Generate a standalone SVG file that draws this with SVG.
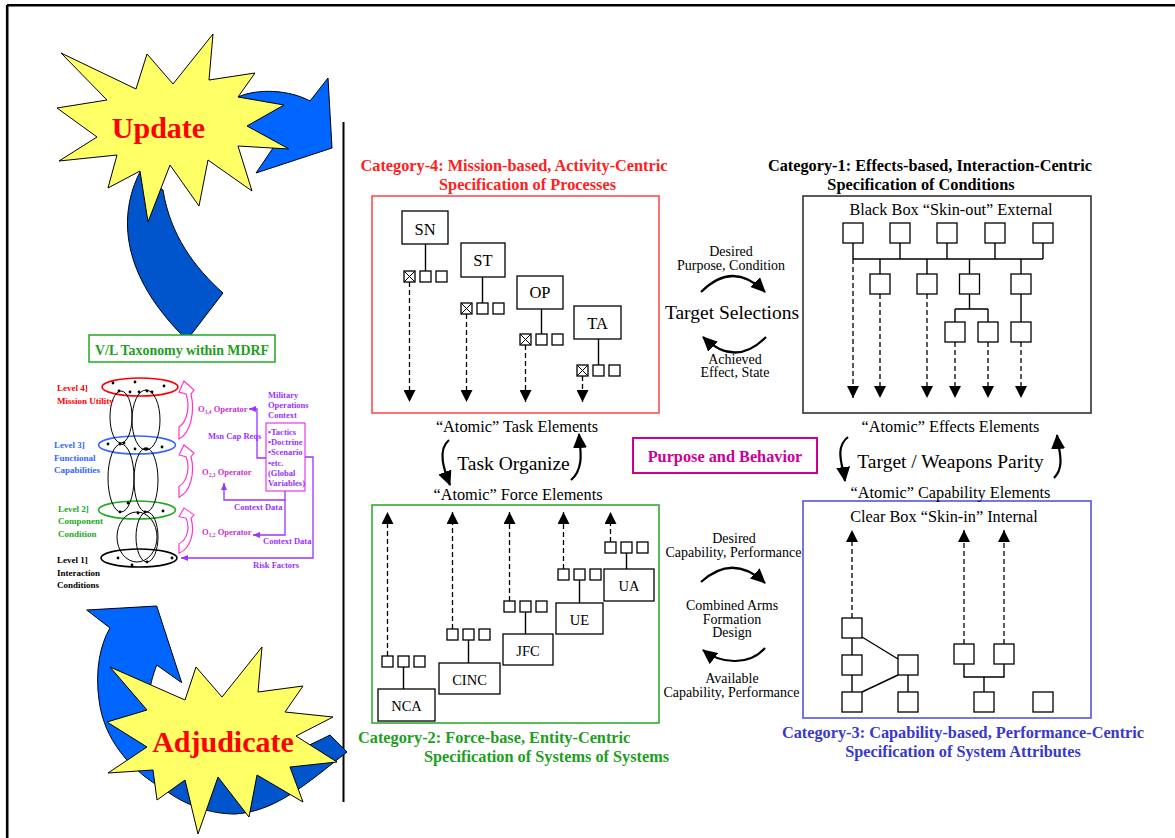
<svg xmlns="http://www.w3.org/2000/svg" width="1175" height="838" viewBox="0 0 1175 838">
<style>
text{font-family:"Liberation Serif","Times New Roman",serif;}
.b{font-weight:bold;}
.sq{fill:#fff;stroke:#000;stroke-width:1.3;}
.box{fill:#fff;stroke:#000;stroke-width:1.3;}
.ln{fill:none;stroke:#000;stroke-width:1.4;}
.dash{fill:none;stroke:#000;stroke-width:1.3;stroke-dasharray:5 3;}
.arc{fill:none;stroke:#000;stroke-width:2.2;}
.lbl{font-size:16.3px;text-anchor:middle;}
.nm{font-size:16.5px;text-anchor:middle;}
.nm2{font-size:14.5px;text-anchor:middle;}
.small{font-size:14px;text-anchor:middle;}
.big{font-size:19.5px;text-anchor:middle;}
.title{font-size:16.3px;font-weight:bold;}
.tax{font-size:9px;font-weight:bold;}
.tx2{font-size:8.5px;font-weight:bold;}
.pur{fill:#9933FF;}
.mag{fill:#CC33CC;}
.pline{fill:none;stroke:#9933FF;stroke-width:1.3;}
.star{fill:#FFFF66;stroke:#000;stroke-width:1;}
.loop{fill:none;stroke:#000;stroke-width:1;}
.dot{fill:#000;}
.pink{fill:#fff;stroke:#FF33CC;stroke-width:1.2;}
</style>
<defs>
<marker id="dHead" markerUnits="userSpaceOnUse" markerWidth="12" markerHeight="12" viewBox="0 0 12 12" refX="12" refY="6" orient="auto"><path d="M0,0 L12,6 L0,12 Z" fill="#000"/></marker>
<marker id="cHead" markerUnits="userSpaceOnUse" markerWidth="15" markerHeight="14" viewBox="0 0 15 14" refX="14" refY="7" orient="auto"><path d="M0,0 L15,7 L0,14 Z" fill="#000"/></marker>
<marker id="pHead" markerUnits="userSpaceOnUse" markerWidth="7" markerHeight="6" viewBox="0 0 7 6" refX="7" refY="3" orient="auto"><path d="M0,0 L7,3 L0,6 Z" fill="#9933FF"/></marker>
<path id="pinkArrow" d="M1,58 L1,46 C10,40 12,24 8,13 L1,11 L6,0 L16,9 L13,13 C17,30 13,52 1,58 Z"/>
<g id="xsq"><rect class="sq" x="0" y="0" width="11" height="11"/><path d="M0,0 L11,11 M11,0 L0,11" stroke="#000" stroke-width="1"/></g>
</defs>

<rect width="1175" height="838" fill="#fff"/>
<!-- page frame and divider -->
<path d="M7,5.3 H1175 M7.2,5 V838" fill="none" stroke="#000" stroke-width="2.6"/>
<path d="M343.5,122 V802" stroke="#000" stroke-width="2"/>

<!-- Update cycle: arrows behind burst -->
<g id="update">
  <path d="M238,97 C258,88 290,90 310,101 L328,78 L332,148 L256,173 L273,148 C262,140 250,136 236,134 Z" fill="#0066FF" stroke="#000" stroke-width="1"/>
  <path d="M140,172 C118,215 120,275 187,340 L223,293 C195,268 170,235 163,190 Z" fill="#0055CC" stroke="#000" stroke-width="1"/>
  <polygon class="star" points="61,53 136,89 147,54 173,84 213,34 209,80 255,73 238,97 284,105 247,126 289,149 238,146 252,191 208,160 199,206 170,165 148,222 140,171 108,188 117,155 59,161 97,137 57,108 107,100"/>
  <text x="158.5" y="138" font-size="30" font-weight="bold" fill="#FF0000" text-anchor="middle">Update</text>
</g>

<!-- Adjudicate cycle -->
<g id="adjudicate">
  <path d="M86.7,610 L156.7,606 L181.7,682.7 L156.7,665 C149,685 146,705 150,725 C155,745 165,756 175,762 L165,790 C130,770 104,740 99,700 C95,670 100,645 110,628 Z" fill="#0066FF" stroke="#000" stroke-width="1"/>
  <path d="M165,790 C185,805 210,814 235,814 C265,812 290,798 333,763 L347,752 L330,735 C310,745 290,755 265,760 C230,768 195,766 175,762 Z" fill="#0055CC" stroke="#000" stroke-width="1"/>
  <polygon class="star" points="110,667 185,700 196,667 222,697 262,647 258,692 303,686 285,712 333,717 296,736 337,762 290,767 303,802 257,775 249,817 218,777 198,834 185,780 157,800 153,770 108,773 147,747 107,722 147,710"/>
  <text x="223" y="752" font-size="30" font-weight="bold" fill="#FF0000" text-anchor="middle">Adjudicate</text>
</g>

<!-- V/L taxonomy -->
<g id="taxonomy">
  <rect x="89" y="335" width="186" height="27" fill="#fff" stroke="#22AA22" stroke-width="1.5"/>
  <text x="182" y="355" font-size="14" font-weight="bold" fill="#1E9E1E" text-anchor="middle" textLength="174" lengthAdjust="spacingAndGlyphs">V/L Taxonomy within MDRF</text>

  <g id="levels">
    <ellipse cx="140" cy="387" rx="38" ry="9" fill="none" stroke="#FF0000" stroke-width="1.6"/>
    <ellipse cx="137" cy="445" rx="38.5" ry="9" fill="none" stroke="#3366FF" stroke-width="1.6"/>
    <ellipse cx="137" cy="510" rx="38.5" ry="9" fill="none" stroke="#22AA22" stroke-width="1.6"/>
    <ellipse cx="139" cy="558" rx="38" ry="9" fill="none" stroke="#000" stroke-width="1.6"/>
    <ellipse class="loop" cx="121" cy="417" rx="11" ry="26"/>
    <ellipse class="loop" cx="146" cy="420" rx="14" ry="30"/>
    <ellipse class="loop" cx="121" cy="478" rx="13" ry="34"/>
    <ellipse class="loop" cx="146" cy="480" rx="12" ry="32"/>
    <ellipse class="loop" cx="137" cy="537" rx="20" ry="25"/>
    <ellipse class="loop" cx="147" cy="537" rx="11" ry="25"/>
    <g class="dot">
      <circle cx="113" cy="383" r="1.4"/><circle cx="135" cy="382" r="1.4"/><circle cx="164" cy="386" r="1.4"/><circle cx="119" cy="391" r="1.4"/><circle cx="130" cy="392" r="1.4"/><circle cx="139" cy="392" r="1.4"/><circle cx="147" cy="391" r="1.4"/><circle cx="152" cy="392" r="1.4"/>
      <circle cx="108" cy="444" r="1.4"/><circle cx="120" cy="444" r="1.4"/><circle cx="124" cy="443" r="1.4"/><circle cx="135" cy="449" r="1.4"/><circle cx="145" cy="449" r="1.4"/><circle cx="147" cy="449" r="1.4"/><circle cx="162" cy="447" r="1.4"/>
      <circle cx="128" cy="503" r="1.4"/><circle cx="163" cy="511" r="1.4"/><circle cx="120" cy="512" r="1.4"/><circle cx="138" cy="513" r="1.4"/><circle cx="145" cy="512" r="1.4"/>
      <circle cx="118" cy="558" r="1.4"/><circle cx="132" cy="565" r="1.4"/><circle cx="147" cy="562" r="1.4"/><circle cx="172" cy="558" r="1.4"/>
    </g>
    <text class="tax" x="57" y="391" fill="#FF0000">Level 4]</text>
    <text class="tax" x="57" y="404" fill="#FF0000">Mission Utility</text>
    <text class="tax" x="54" y="448" fill="#3366FF">Level 3]</text>
    <text class="tax" x="54" y="461" fill="#3366FF">Functional</text>
    <text class="tax" x="54" y="473" fill="#3366FF">Capabilities</text>
    <text class="tax" x="58" y="512" fill="#22AA22">Level 2]</text>
    <text class="tax" x="58" y="524" fill="#22AA22">Component</text>
    <text class="tax" x="58" y="537" fill="#22AA22">Condition</text>
    <text class="tax" x="57" y="563" fill="#000">Level 1]</text>
    <text class="tax" x="57" y="576" fill="#000">Interaction</text>
    <text class="tax" x="57" y="588" fill="#000">Conditions</text>
  </g>

  <g id="operators">
    <use href="#pinkArrow" class="pink" transform="translate(178,381)"/>
    <use href="#pinkArrow" class="pink" transform="translate(178,445) scale(1,0.9)"/>
    <use href="#pinkArrow" class="pink" transform="translate(178,508) scale(1,0.78)"/>
    <text class="tx2 mag" x="198" y="412">O<tspan font-size="5.5" dy="2">3,4</tspan><tspan dy="-2"> Operator</tspan></text>
    <text class="tx2 mag" x="202" y="475">O<tspan font-size="5.5" dy="2">2,3</tspan><tspan dy="-2"> Operator</tspan></text>
    <text class="tx2 mag" x="202" y="535">O<tspan font-size="5.5" dy="2">1,2</tspan><tspan dy="-2"> Operator</tspan></text>
  </g>

  <g id="context">
    <rect x="266" y="423" width="39" height="68" fill="#fff" stroke="#EE33EE" stroke-width="1.2"/>
    <text class="tx2 pur" x="268" y="398">Military</text>
    <text class="tx2 pur" x="268" y="408">Operations</text>
    <text class="tx2 pur" x="268" y="418">Context</text>
    <text class="tx2 pur" x="268" y="435" font-size="8">•Tactics</text>
    <text class="tx2 pur" x="268" y="445" font-size="8">•Doctrine</text>
    <text class="tx2 pur" x="268" y="455" font-size="8">•Scenario</text>
    <text class="tx2 pur" x="268" y="466" font-size="8">•etc.</text>
    <text class="tx2 pur" x="268" y="476" font-size="8">(Global</text>
    <text class="tx2 pur" x="268" y="486" font-size="8">Variables)</text>
    <text class="tx2 pur" x="208" y="439" font-size="8">Msn Cap Reqs</text>
    <text class="tx2 pur" x="234" y="510" font-size="8">Context Data</text>
    <text class="tx2 pur" x="263" y="544" font-size="8">Context Data</text>
    <text class="tx2 pur" x="253" y="568" font-size="8">Risk Factors</text>
  </g>
  <g id="taxonomy-links">
    <path class="pline" d="M266,458 H257 V409 H249" marker-end="url(#pHead)"/>
    <path class="pline" d="M285,491 V500 H224 V483" marker-end="url(#pHead)"/>
    <path class="pline" d="M285,500 V535 H253" marker-end="url(#pHead)"/>
    <path class="pline" d="M305,457 H313 V558 H181" marker-end="url(#pHead)"/>
  </g>
</g>

<!-- Category-4 -->
<g id="cat4">
  <text class="title" x="514" y="171" fill="#FF2020" text-anchor="middle">Category-4:  Mission-based, Activity-Centric</text>
  <text class="title" x="527.5" y="189.5" fill="#FF2020" text-anchor="middle">Specification of Processes</text>
  <rect x="372" y="196" width="287" height="217" fill="none" stroke="#FF4D4D" stroke-width="1.6"/>
  <g id="SN">
    <rect class="box" x="402" y="211" width="46" height="33"/>
    <text class="nm" x="425" y="235">SN</text>
    <use href="#xsq" x="404" y="271"/><rect class="sq" x="420" y="271" width="11" height="11"/><rect class="sq" x="436" y="271" width="11" height="11"/>
  </g>
  <g id="ST">
    <rect class="box" x="461" y="243" width="44" height="34"/>
    <text class="nm" x="483" y="266">ST</text>
    <use href="#xsq" x="461" y="303"/><rect class="sq" x="477" y="303" width="11" height="11"/><rect class="sq" x="493" y="303" width="11" height="11"/>
  </g>
  <g id="OP">
    <rect class="box" x="517" y="276" width="46" height="33"/>
    <text class="nm" x="540" y="298">OP</text>
    <use href="#xsq" x="520" y="334"/><rect class="sq" x="536" y="334" width="11" height="11"/><rect class="sq" x="552" y="334" width="11" height="11"/>
  </g>
  <g id="TA">
    <rect class="box" x="574" y="306" width="47" height="33"/>
    <text class="nm" x="597.5" y="329">TA</text>
    <use href="#xsq" x="577" y="365"/><rect class="sq" x="593" y="365" width="11" height="11"/><rect class="sq" x="609" y="365" width="11" height="11"/>
  </g>
</g>

<!-- Category-1 -->
<g id="cat1">
  <text class="title" x="930" y="171" fill="#000" text-anchor="middle">Category-1:  Effects-based, Interaction-Centric</text>
  <text class="title" x="921" y="189.5" fill="#000" text-anchor="middle">Specification of Conditions</text>
  <rect x="803" y="196" width="288" height="217" fill="none" stroke="#333" stroke-width="1.6"/>
  <text class="lbl" x="951" y="215">Black Box “Skin-out” External</text>
  <g id="effects">
    <rect id="e1" class="sq" x="843" y="223" width="20" height="20"/>
    <rect id="e2" class="sq" x="890" y="223" width="20" height="20"/>
    <rect id="e3" class="sq" x="937" y="223" width="20" height="20"/>
    <rect id="e4" class="sq" x="985" y="223" width="20" height="20"/>
    <rect id="e5" class="sq" x="1033" y="223" width="20" height="20"/>
    <rect id="e6" class="sq" x="870" y="274" width="20" height="20"/>
    <rect id="e7" class="sq" x="917" y="274" width="20" height="20"/>
    <rect id="e8" class="sq" x="959.5" y="274" width="20" height="20"/>
    <rect id="e9" class="sq" x="1011" y="274" width="20" height="20"/>
    <rect id="e10" class="sq" x="945" y="322" width="20" height="20"/>
    <rect id="e11" class="sq" x="978" y="322" width="20" height="20"/>
    <rect id="e12" class="sq" x="1011" y="322" width="20" height="20"/>
  </g>
</g>

<!-- Category-2 -->
<g id="cat2">
  <rect x="372" y="505" width="287" height="218" fill="none" stroke="#33AA33" stroke-width="1.6"/>
  <text class="title" x="358" y="743" fill="#1E9E1E">Category-2:  Force-base, Entity-Centric</text>
  <text class="title" x="424" y="762" fill="#1E9E1E">Specification of Systems of Systems</text>
  <g id="NCA">
    <rect class="box" x="378" y="689" width="57" height="32"/>
    <text class="nm2" x="406.5" y="711">NCA</text>
    <rect class="sq" x="382" y="656" width="11" height="11"/><rect class="sq" x="398" y="656" width="11" height="11"/><rect class="sq" x="414" y="656" width="11" height="11"/>
  </g>
  <g id="CINC">
    <rect class="box" x="439" y="663" width="61" height="31"/>
    <text class="nm2" x="469.5" y="684.5">CINC</text>
    <rect class="sq" x="447" y="629" width="11" height="11"/><rect class="sq" x="463" y="629" width="11" height="11"/><rect class="sq" x="479" y="629" width="11" height="11"/>
  </g>
  <g id="JFC">
    <rect class="box" x="503" y="634" width="50" height="31"/>
    <text class="nm2" x="528" y="656">JFC</text>
    <rect class="sq" x="504" y="601" width="11" height="11"/><rect class="sq" x="520" y="601" width="11" height="11"/><rect class="sq" x="536" y="601" width="11" height="11"/>
  </g>
  <g id="UE">
    <rect class="box" x="556" y="603" width="47" height="31"/>
    <text class="nm2" x="579.5" y="624.5">UE</text>
    <rect class="sq" x="558" y="569" width="11" height="11"/><rect class="sq" x="574" y="569" width="11" height="11"/><rect class="sq" x="590" y="569" width="11" height="11"/>
  </g>
  <g id="UA">
    <rect class="box" x="604" y="569" width="50" height="32"/>
    <text class="nm2" x="629" y="591">UA</text>
    <rect class="sq" x="605" y="542" width="11" height="11"/><rect class="sq" x="621" y="542" width="11" height="11"/><rect class="sq" x="637" y="542" width="11" height="11"/>
  </g>
</g>

<!-- Category-3 -->
<g id="cat3">
  <rect x="803" y="501" width="288" height="217" fill="none" stroke="#5555DD" stroke-width="1.6"/>
  <text class="lbl" x="944" y="522">Clear Box “Skin-in” Internal</text>
  <text class="title" x="963" y="737.5" fill="#3838CC" text-anchor="middle">Category-3:  Capability-based, Performance-Centric</text>
  <text class="title" x="963" y="757" fill="#3838CC" text-anchor="middle">Specification of System Attributes</text>
  <g id="capabilities">
    <rect id="c1" class="sq" x="842" y="618" width="20" height="20"/>
    <rect id="c2" class="sq" x="842" y="655" width="20" height="20"/>
    <rect id="c3" class="sq" x="842" y="692" width="20" height="20"/>
    <rect id="c4" class="sq" x="898" y="655" width="20" height="20"/>
    <rect id="c5" class="sq" x="898" y="692" width="20" height="20"/>
    <rect id="c6" class="sq" x="954" y="644" width="20" height="20"/>
    <rect id="c7" class="sq" x="994" y="644" width="20" height="20"/>
    <rect id="c8" class="sq" x="974" y="692" width="20" height="20"/>
    <rect id="c9" class="sq" x="1033" y="692" width="20" height="20"/>
  </g>
</g>

<!-- central cycle labels -->
<g id="target-selections">
  <text class="small" x="731" y="256">Desired</text>
  <text class="small" x="731" y="269.5">Purpose, Condition</text>
  <text class="big" x="732" y="319">Target Selections</text>
  <text class="small" x="735" y="363.5">Achieved</text>
  <text class="small" x="735" y="377">Effect, State</text>
</g>
<g id="task-organize">
  <text class="lbl" x="517" y="432">“Atomic” Task Elements</text>
  <text class="big" x="513.5" y="470">Task Organize</text>
  <text class="lbl" x="518" y="500">“Atomic” Force Elements</text>
</g>
<g id="purpose">
  <rect x="633" y="438" width="184" height="35" fill="#fff" stroke="#CC0099" stroke-width="2"/>
  <text x="725" y="462" font-size="16.3" font-weight="bold" fill="#CC0099" text-anchor="middle">Purpose and Behavior</text>
</g>
<g id="parity">
  <text class="lbl" x="950.5" y="432">“Atomic” Effects Elements</text>
  <text class="big" x="950.5" y="468">Target / Weapons Parity</text>
  <text class="lbl" x="950.5" y="498">“Atomic” Capability Elements</text>
</g>
<g id="formation">
  <text class="small" x="734" y="543">Desired</text>
  <text class="small" x="733.5" y="557">Capability, Performance</text>
  <text class="small" x="732" y="610">Combined Arms</text>
  <text class="small" x="732" y="623.5">Formation</text>
  <text class="small" x="732" y="637">Design</text>
  <text class="small" x="732" y="683">Available</text>
  <text class="small" x="731.5" y="697">Capability, Performance</text>
</g>

<!-- connectors -->
<g id="connectors">
  <!-- category-4 stems and task flows -->
  <path class="ln" d="M425.5,244 V271 M482.5,277 V303 M541.5,309 V334 M598.5,339 V365"/>
  <path class="dash" d="M409.5,282 V402" marker-end="url(#dHead)"/>
  <path class="dash" d="M466.5,314 V402" marker-end="url(#dHead)"/>
  <path class="dash" d="M525.5,345 V402" marker-end="url(#dHead)"/>
  <path class="dash" d="M582.5,376 V402" marker-end="url(#dHead)"/>
  <!-- category-1 tree and effect flows -->
  <path class="ln" d="M853,243 V259 M900,243 V259 M947,243 V259 M995,243 V259 M1043,243 V259 M853,259 H1043 M880,259 V274 M927,259 V274 M969.5,259 V274 M1021,259 V274 M969.5,294 V309 M955,309 H988 M955,309 V322 M988,309 V322 M1021,294 V322"/>
  <path class="dash" d="M853,259 V398" marker-end="url(#dHead)"/>
  <path class="dash" d="M880,294 V398" marker-end="url(#dHead)"/>
  <path class="dash" d="M927,294 V398" marker-end="url(#dHead)"/>
  <path class="dash" d="M955,342 V398" marker-end="url(#dHead)"/>
  <path class="dash" d="M988,342 V398" marker-end="url(#dHead)"/>
  <path class="dash" d="M1021,342 V398" marker-end="url(#dHead)"/>
  <!-- category-2 stems and force flows -->
  <path class="ln" d="M403.5,667 V689 M468.5,640 V663 M525.5,612 V634 M579.5,580 V603 M626.5,553 V569"/>
  <path class="dash" d="M387.5,656 V512" marker-end="url(#dHead)"/>
  <path class="dash" d="M452.5,629 V512" marker-end="url(#dHead)"/>
  <path class="dash" d="M509.5,601 V512" marker-end="url(#dHead)"/>
  <path class="dash" d="M563.5,569 V512" marker-end="url(#dHead)"/>
  <path class="dash" d="M610.5,542 V512" marker-end="url(#dHead)"/>
  <!-- category-3 structure and capability flows -->
  <path class="ln" d="M852,638 V655 M852,675 V692 M862,637 L898,659 M862,692 L898,675 M908,675 V692 M964,664 V677 H1004 V664 M984,677 V692"/>
  <path class="dash" d="M852,618 V530" marker-end="url(#dHead)"/>
  <path class="dash" d="M964,644 V530" marker-end="url(#dHead)"/>
  <path class="dash" d="M1004,644 V530" marker-end="url(#dHead)"/>
  <!-- cycle arcs -->
  <path class="arc" d="M701,292 Q733,260 765,292" marker-end="url(#cHead)"/>
  <path class="arc" d="M766,337 Q735,368 703,337" marker-end="url(#cHead)"/>
  <path class="arc" d="M449,440 C437,450 444,470 450,485" marker-end="url(#cHead)"/>
  <path class="arc" d="M571,480 C585,468 580,448 579,434" marker-end="url(#cHead)"/>
  <path class="arc" d="M848,437 C834,448 843,466 845,481" marker-end="url(#cHead)"/>
  <path class="arc" d="M1054,478 C1066,466 1058,448 1057,435" marker-end="url(#cHead)"/>
  <path class="arc" d="M701,582 Q733,553 765,583" marker-end="url(#cHead)"/>
  <path class="arc" d="M765,648 C750,665 722,665 703,650" marker-end="url(#cHead)"/>
</g>
</svg>
